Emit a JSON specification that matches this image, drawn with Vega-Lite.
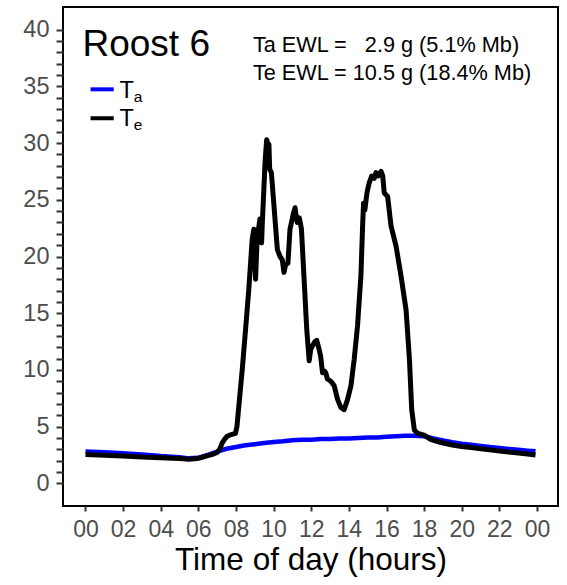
{
  "$schema": "https://vega.github.io/schema/vega-lite/v6.json",
  "width": 495,
  "height": 499,
  "autosize": {"type": "none"},
  "padding": {"left": 63, "top": 7, "right": 9, "bottom": 79},
  "background": "white",
  "config": {
    "view": {"stroke": "black", "strokeWidth": 2},
    "font": "Liberation Sans",
    "text": {"font": "Liberation Sans"}
  },
  "resolve": {"axis": {"x": "independent", "y": "independent"}},
  "datasets": {
    "temps": [
      {"h": 0, "s": "Ta", "t": 2.8}, {"h": 1, "s": "Ta", "t": 2.75}, {"h": 2, "s": "Ta", "t": 2.65}, {"h": 3, "s": "Ta", "t": 2.55},
      {"h": 4, "s": "Ta", "t": 2.4}, {"h": 5, "s": "Ta", "t": 2.3}, {"h": 5.5, "s": "Ta", "t": 2.2}, {"h": 6, "s": "Ta", "t": 2.25},
      {"h": 6.5, "s": "Ta", "t": 2.5}, {"h": 7, "s": "Ta", "t": 2.8}, {"h": 7.5, "s": "Ta", "t": 3.05}, {"h": 8, "s": "Ta", "t": 3.2},
      {"h": 8.5, "s": "Ta", "t": 3.35}, {"h": 9, "s": "Ta", "t": 3.45}, {"h": 9.5, "s": "Ta", "t": 3.55}, {"h": 10, "s": "Ta", "t": 3.65},
      {"h": 10.5, "s": "Ta", "t": 3.7}, {"h": 11, "s": "Ta", "t": 3.8}, {"h": 11.5, "s": "Ta", "t": 3.85}, {"h": 12, "s": "Ta", "t": 3.85},
      {"h": 12.5, "s": "Ta", "t": 3.9}, {"h": 13, "s": "Ta", "t": 3.9}, {"h": 13.5, "s": "Ta", "t": 3.95}, {"h": 14, "s": "Ta", "t": 3.95},
      {"h": 14.5, "s": "Ta", "t": 4.0}, {"h": 15, "s": "Ta", "t": 4.05}, {"h": 15.5, "s": "Ta", "t": 4.05}, {"h": 16, "s": "Ta", "t": 4.1},
      {"h": 16.5, "s": "Ta", "t": 4.15}, {"h": 17, "s": "Ta", "t": 4.2}, {"h": 17.5, "s": "Ta", "t": 4.2}, {"h": 18, "s": "Ta", "t": 4.15},
      {"h": 18.5, "s": "Ta", "t": 3.95}, {"h": 19, "s": "Ta", "t": 3.78}, {"h": 19.5, "s": "Ta", "t": 3.62}, {"h": 20, "s": "Ta", "t": 3.5},
      {"h": 20.5, "s": "Ta", "t": 3.4}, {"h": 21, "s": "Ta", "t": 3.3}, {"h": 21.5, "s": "Ta", "t": 3.2}, {"h": 22, "s": "Ta", "t": 3.12},
      {"h": 22.5, "s": "Ta", "t": 3.03}, {"h": 23, "s": "Ta", "t": 2.95}, {"h": 23.5, "s": "Ta", "t": 2.88}, {"h": 23.92, "s": "Ta", "t": 2.82},

      {"h": 0, "s": "Te", "t": 2.55}, {"h": 1, "s": "Te", "t": 2.48}, {"h": 2, "s": "Te", "t": 2.4}, {"h": 3, "s": "Te", "t": 2.33},
      {"h": 4, "s": "Te", "t": 2.25}, {"h": 5, "s": "Te", "t": 2.18}, {"h": 5.5, "s": "Te", "t": 2.13}, {"h": 5.93, "s": "Te", "t": 2.18},
      {"h": 6.2, "s": "Te", "t": 2.3}, {"h": 6.46, "s": "Te", "t": 2.42}, {"h": 6.8, "s": "Te", "t": 2.58}, {"h": 7.0, "s": "Te", "t": 2.72},
      {"h": 7.15, "s": "Te", "t": 3.05}, {"h": 7.26, "s": "Te", "t": 3.55}, {"h": 7.4, "s": "Te", "t": 3.9}, {"h": 7.53, "s": "Te", "t": 4.15},
      {"h": 7.75, "s": "Te", "t": 4.3}, {"h": 7.97, "s": "Te", "t": 4.4}, {"h": 8.05, "s": "Te", "t": 5.0}, {"h": 8.15, "s": "Te", "t": 6.8},
      {"h": 8.33, "s": "Te", "t": 10.0}, {"h": 8.51, "s": "Te", "t": 13.6}, {"h": 8.68, "s": "Te", "t": 17.1}, {"h": 8.86, "s": "Te", "t": 21.5},
      {"h": 8.95, "s": "Te", "t": 22.4}, {"h": 9.0, "s": "Te", "t": 19.5}, {"h": 9.04, "s": "Te", "t": 18.0}, {"h": 9.13, "s": "Te", "t": 21.8},
      {"h": 9.22, "s": "Te", "t": 22.7}, {"h": 9.27, "s": "Te", "t": 23.3}, {"h": 9.36, "s": "Te", "t": 21.2}, {"h": 9.4, "s": "Te", "t": 23.0},
      {"h": 9.48, "s": "Te", "t": 25.9}, {"h": 9.55, "s": "Te", "t": 28.5}, {"h": 9.63, "s": "Te", "t": 30.3}, {"h": 9.68, "s": "Te", "t": 30.0},
      {"h": 9.72, "s": "Te", "t": 29.1}, {"h": 9.75, "s": "Te", "t": 29.9}, {"h": 9.79, "s": "Te", "t": 27.7}, {"h": 9.88, "s": "Te", "t": 27.4},
      {"h": 9.98, "s": "Te", "t": 25.3}, {"h": 10.1, "s": "Te", "t": 22.7}, {"h": 10.2, "s": "Te", "t": 20.6}, {"h": 10.34, "s": "Te", "t": 20.0},
      {"h": 10.46, "s": "Te", "t": 19.7}, {"h": 10.55, "s": "Te", "t": 18.6}, {"h": 10.64, "s": "Te", "t": 19.3}, {"h": 10.76, "s": "Te", "t": 19.4},
      {"h": 10.87, "s": "Te", "t": 22.4}, {"h": 11.05, "s": "Te", "t": 23.8}, {"h": 11.14, "s": "Te", "t": 24.3}, {"h": 11.2, "s": "Te", "t": 23.5},
      {"h": 11.26, "s": "Te", "t": 23.0}, {"h": 11.37, "s": "Te", "t": 23.4}, {"h": 11.48, "s": "Te", "t": 22.4}, {"h": 11.62, "s": "Te", "t": 18.0},
      {"h": 11.76, "s": "Te", "t": 13.6}, {"h": 11.89, "s": "Te", "t": 10.8}, {"h": 11.97, "s": "Te", "t": 11.8}, {"h": 12.06, "s": "Te", "t": 12.1},
      {"h": 12.2, "s": "Te", "t": 12.5}, {"h": 12.29, "s": "Te", "t": 12.6}, {"h": 12.42, "s": "Te", "t": 11.8}, {"h": 12.5, "s": "Te", "t": 11.2},
      {"h": 12.6, "s": "Te", "t": 9.75}, {"h": 12.7, "s": "Te", "t": 9.9}, {"h": 12.77, "s": "Te", "t": 9.75}, {"h": 12.86, "s": "Te", "t": 9.2},
      {"h": 13.04, "s": "Te", "t": 9.0}, {"h": 13.22, "s": "Te", "t": 8.6}, {"h": 13.4, "s": "Te", "t": 7.4}, {"h": 13.57, "s": "Te", "t": 6.7},
      {"h": 13.75, "s": "Te", "t": 6.5}, {"h": 13.93, "s": "Te", "t": 7.4}, {"h": 14.11, "s": "Te", "t": 8.6}, {"h": 14.28, "s": "Te", "t": 10.9},
      {"h": 14.46, "s": "Te", "t": 13.9}, {"h": 14.64, "s": "Te", "t": 18.3}, {"h": 14.73, "s": "Te", "t": 22.7}, {"h": 14.78, "s": "Te", "t": 24.7},
      {"h": 14.85, "s": "Te", "t": 24.1}, {"h": 14.96, "s": "Te", "t": 25.6}, {"h": 15.08, "s": "Te", "t": 26.5}, {"h": 15.21, "s": "Te", "t": 27.1},
      {"h": 15.35, "s": "Te", "t": 26.9}, {"h": 15.44, "s": "Te", "t": 27.4}, {"h": 15.56, "s": "Te", "t": 27.1}, {"h": 15.71, "s": "Te", "t": 27.5},
      {"h": 15.8, "s": "Te", "t": 27.1}, {"h": 15.88, "s": "Te", "t": 25.6}, {"h": 16.06, "s": "Te", "t": 25.3}, {"h": 16.24, "s": "Te", "t": 22.7},
      {"h": 16.51, "s": "Te", "t": 20.9}, {"h": 16.77, "s": "Te", "t": 18.3}, {"h": 17.04, "s": "Te", "t": 15.3}, {"h": 17.22, "s": "Te", "t": 10.9},
      {"h": 17.34, "s": "Te", "t": 6.5}, {"h": 17.48, "s": "Te", "t": 4.7}, {"h": 17.66, "s": "Te", "t": 4.4}, {"h": 18.0, "s": "Te", "t": 4.25},
      {"h": 18.37, "s": "Te", "t": 3.85}, {"h": 18.9, "s": "Te", "t": 3.6}, {"h": 19.5, "s": "Te", "t": 3.38}, {"h": 20.0, "s": "Te", "t": 3.25},
      {"h": 20.5, "s": "Te", "t": 3.15}, {"h": 21, "s": "Te", "t": 3.05}, {"h": 21.5, "s": "Te", "t": 2.95}, {"h": 22, "s": "Te", "t": 2.85},
      {"h": 22.5, "s": "Te", "t": 2.75}, {"h": 23, "s": "Te", "t": 2.67}, {"h": 23.5, "s": "Te", "t": 2.58}, {"h": 23.92, "s": "Te", "t": 2.5}
    ]
  },
  "layer": [
    {
      "data": {"name": "temps"},
      "mark": {"type": "line", "strokeJoin": "round", "strokeCap": "butt"},
      "encoding": {
        "x": {
          "field": "h", "type": "quantitative",
          "scale": {"domain": [-1.196, 25.116], "nice": false, "zero": false},
          "axis": {
            "orient": "bottom",
            "values": [0, 2, 4, 6, 8, 10, 12, 14, 16, 18, 20, 22, 24],
            "labelExpr": "(datum.value % 24) < 10 ? '0' + (datum.value % 24) : '' + (datum.value % 24)",
            "labelFontSize": 23, "labelColor": "#4D4D4D", "labelFont": "Liberation Sans",
            "labelPadding": 7, "labelOverlap": false, "labelFlush": false, "labelBound": false,
            "tickSize": 5, "tickWidth": 2, "tickColor": "#333333",
            "domain": false, "grid": false,
            "title": "Time of day (hours)", "titleFontSize": 31.5, "titleFontWeight": "normal",
            "titleColor": "black", "titleFont": "Liberation Sans", "titlePadding": 3
          }
        },
        "y": {
          "field": "t", "type": "quantitative",
          "scale": {"domain": [-2, 42], "nice": false, "zero": false},
          "axis": {
            "orient": "left",
            "values": [0,1,2,3,4,5,6,7,8,9,10,11,12,13,14,15,16,17,18,19,20,21,22,23,24,25,26,27,28,29,30,31,32,33,34,35,36,37,38,39,40],
            "labelExpr": "datum.value % 5 === 0 ? '' + datum.value : ''",
            "labelFontSize": 23.5, "labelColor": "#4D4D4D", "labelFont": "Liberation Sans",
            "labelPadding": 7, "labelOverlap": false, "labelFlush": false, "labelBound": false,
            "tickSize": 7, "tickWidth": 2, "tickColor": "#333333",
            "domain": false, "grid": false, "title": null
          }
        },
        "color": {
          "field": "s", "type": "nominal",
          "scale": {"domain": ["Ta", "Te"], "range": ["#0000FF", "#000000"]},
          "legend": null
        },
        "strokeWidth": {
          "field": "s", "type": "nominal",
          "scale": {"domain": ["Ta", "Te"], "range": [4.5, 5]},
          "legend": null
        }
      }
    },
    {
      "data": {"values": [{}]},
      "mark": {"type": "text", "text": "Roost 6", "fontSize": 37, "align": "left", "baseline": "alphabetic", "color": "black"},
      "encoding": {"x": {"datum": -0.16, "axis": null}, "y": {"datum": 37.68, "axis": null}}
    },
    {
      "data": {"values": [{}]},
      "mark": {"type": "rule", "strokeWidth": 4, "color": "#0000FF"},
      "encoding": {"x": {"datum": 0.27, "axis": null}, "x2": {"datum": 1.5}, "y": {"datum": 34.74, "axis": null}}
    },
    {
      "data": {"values": [{}]},
      "mark": {"type": "rule", "strokeWidth": 4, "color": "#000000"},
      "encoding": {"x": {"datum": 0.27, "axis": null}, "x2": {"datum": 1.5}, "y": {"datum": 32.19, "axis": null}}
    },
    {
      "data": {"values": [{}]},
      "mark": {"type": "text", "text": "T", "fontSize": 23.5, "align": "left", "baseline": "alphabetic", "color": "black"},
      "encoding": {"x": {"datum": 1.81, "axis": null}, "y": {"datum": 34.0, "axis": null}}
    },
    {
      "data": {"values": [{}]},
      "mark": {"type": "text", "text": "a", "fontSize": 15.5, "align": "left", "baseline": "alphabetic", "color": "black"},
      "encoding": {"x": {"datum": 2.57, "axis": null}, "y": {"datum": 33.65, "axis": null}}
    },
    {
      "data": {"values": [{}]},
      "mark": {"type": "text", "text": "T", "fontSize": 23.5, "align": "left", "baseline": "alphabetic", "color": "black"},
      "encoding": {"x": {"datum": 1.81, "axis": null}, "y": {"datum": 31.51, "axis": null}}
    },
    {
      "data": {"values": [{}]},
      "mark": {"type": "text", "text": "e", "fontSize": 15.5, "align": "left", "baseline": "alphabetic", "color": "black"},
      "encoding": {"x": {"datum": 2.57, "axis": null}, "y": {"datum": 31.15, "axis": null}}
    },
    {
      "data": {"values": [{}]},
      "mark": {"type": "text", "text": "Ta EWL =\u00a0\u00a0\u00a02.9 g (5.1% Mb)", "fontSize": 21.7, "align": "left", "baseline": "alphabetic", "color": "black"},
      "encoding": {"x": {"datum": 8.9, "axis": null}, "y": {"datum": 38.0, "axis": null}}
    },
    {
      "data": {"values": [{}]},
      "mark": {"type": "text", "text": "Te EWL = 10.5 g (18.4% Mb)", "fontSize": 21.7, "align": "left", "baseline": "alphabetic", "color": "black"},
      "encoding": {"x": {"datum": 8.9, "axis": null}, "y": {"datum": 35.56, "axis": null}}
    }
  ]
}
